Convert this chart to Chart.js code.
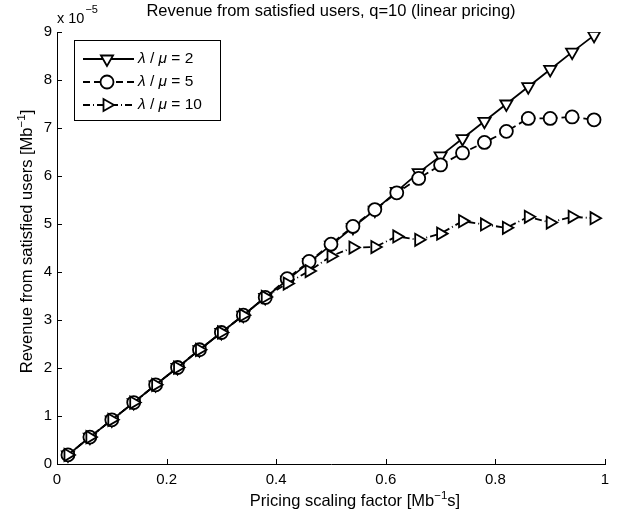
<!DOCTYPE html>
<html>
<head>
<meta charset="utf-8">
<script src="https://cdn.jsdelivr.net/npm/chart.js@4.4.1/dist/chart.umd.min.js"></script>
<style>
html, body { margin: 0; padding: 0; background: #fff; }
</style>
</head>
<body>
<canvas id="revenueChart" width="629" height="514"></canvas>
<script>
// pricing scaling factor (x) and revenue in units of 1e-5 (y)
const pricing = [0.02, 0.06, 0.10, 0.14, 0.18, 0.22, 0.26, 0.30, 0.34, 0.38, 0.42, 0.46, 0.50,
                 0.54, 0.58, 0.62, 0.66, 0.70, 0.74, 0.78, 0.82, 0.86, 0.90, 0.94, 0.98];
const revRatio2 = [0.19, 0.56, 0.92, 1.28, 1.65, 2.01, 2.38, 2.74, 3.10, 3.47, 3.83, 4.20, 4.56,
                   4.93, 5.29, 5.68, 6.07, 6.42, 6.78, 7.14, 7.50, 7.86, 8.22, 8.58, 8.93];
const revRatio5 = [0.19, 0.56, 0.92, 1.28, 1.65, 2.01, 2.38, 2.74, 3.10, 3.47, 3.86, 4.22, 4.58,
                   4.95, 5.30, 5.65, 5.95, 6.23, 6.48, 6.70, 6.93, 7.20, 7.20, 7.23, 7.17];
const revRatio10 = [0.19, 0.56, 0.92, 1.28, 1.65, 2.01, 2.38, 2.74, 3.10, 3.48, 3.76, 4.02, 4.33,
                    4.51, 4.52, 4.74, 4.67, 4.80, 5.06, 4.99, 4.92, 5.15, 5.03, 5.15, 5.12];
const ratioLabels = ['2', '5', '10'];

const FONT = '"Liberation Sans", Arial, sans-serif';
Chart.defaults.font.family = FONT;
Chart.defaults.font.size = 15;
Chart.defaults.color = '#000';

const toPoints = ys => pricing.map((x, i) => ({ x: x, y: ys[i] }));

// text with superscripts: parts = [text, size, raise]
function drawRich(ctx, parts, cx, baseline) {
    let total = 0;
    parts.forEach(p => {
        ctx.font = p[1] + 'px ' + FONT;
        total += ctx.measureText(p[0]).width;
    });
    let x = cx - total / 2;
    parts.forEach(p => {
        ctx.font = p[1] + 'px ' + FONT;
        ctx.fillText(p[0], x, baseline - (p[2] || 0));
        x += ctx.measureText(p[0]).width;
    });
}

// inward tick marks, exponent and axis labels like matlab
const matlabAxes = {
    id: 'matlabAxes',
    afterDatasetsDraw(chart) {
        const ctx = chart.ctx;
        const a = chart.chartArea;
        const xs = chart.scales.x, ys = chart.scales.y;
        ctx.save();
        ctx.strokeStyle = '#000';
        ctx.lineWidth = 1;
        ctx.beginPath();
        xs.ticks.forEach(t => {
            const px = Math.round(xs.getPixelForValue(t.value)) + 0.5;
            ctx.moveTo(px, a.bottom);
            ctx.lineTo(px, a.bottom - 5);
        });
        ys.ticks.forEach(t => {
            const py = Math.round(ys.getPixelForValue(t.value)) + 0.5;
            ctx.moveTo(a.left, py);
            ctx.lineTo(a.left + 5, py);
        });
        ctx.stroke();

        ctx.fillStyle = '#000';
        ctx.textBaseline = 'alphabetic';
        ctx.textAlign = 'left';
        // exponent label
        ctx.font = '14.5px ' + FONT;
        ctx.fillText('x 10', a.left, 23);
        const w = ctx.measureText('x 10').width;
        ctx.font = '11px ' + FONT;
        ctx.fillText('\u22125', a.left + w + 1, 13);

        // x axis title
        drawRich(ctx, [['Pricing scaling factor [Mb', 16.5], ['\u22121', 11.5, 7], ['s]', 16.5]], 355, 506);
        // y axis title
        ctx.translate(31.5, 241.5);
        ctx.rotate(-Math.PI / 2);
        drawRich(ctx, [['Revenue from satisfied users [Mb', 16.5], ['\u22121', 11.5, 7], [']', 16.5]], 0, 0);
        ctx.restore();
    }
};

// legend box with line + marker samples
const boxLegend = {
    id: 'boxLegend',
    afterDraw(chart) {
        const ctx = chart.ctx;
        const sets = chart.data.datasets;
        ctx.save();
        ctx.fillStyle = '#fff';
        ctx.fillRect(74.5, 40.5, 146, 80);
        ctx.strokeStyle = '#000';
        ctx.lineWidth = 1;
        ctx.strokeRect(74.5, 40.5, 146, 80);
        sets.forEach((ds, i) => {
            const y = 59 + i * 23;
            ctx.lineWidth = ds.borderWidth;
            ctx.setLineDash(ds.borderDash || []);
            ctx.beginPath();
            ctx.moveTo(83, y);
            ctx.lineTo(134, y);
            ctx.stroke();
            ctx.setLineDash([]);
            ctx.fillStyle = '#fff';
            ctx.lineWidth = ds.pointBorderWidth;
            Chart.helpers.drawPoint(ctx, {
                pointStyle: ds.pointStyle,
                rotation: ds.pointRotation || 0,
                radius: ds.pointRadius,
                borderWidth: ds.pointBorderWidth
            }, 107, y);
            // label: italic lambda / mu
            ctx.fillStyle = '#000';
            ctx.textBaseline = 'middle';
            let x = 138;
            const parts = [['italic ', '\u03bb'], ['', ' / '], ['italic ', '\u03bc'], ['', ' = ' + ratioLabels[i]]];
            parts.forEach(p => {
                ctx.font = p[0] + '15.5px ' + FONT;
                ctx.fillText(p[1], x, y);
                x += ctx.measureText(p[1]).width;
            });
        });
        ctx.restore();
    }
};

const lineBase = {
    borderColor: '#000',
    borderWidth: 1.8,
    pointBorderColor: '#000',
    pointBackgroundColor: '#fff',
    pointBorderWidth: 1.8,
    tension: 0,
    fill: false
};

new Chart(document.getElementById('revenueChart').getContext('2d'), {
    type: 'line',
    data: {
        datasets: [
            Object.assign({}, lineBase, {
                label: '\u03bb / \u03bc = ' + ratioLabels[0],
                data: toPoints(revRatio2),
                pointStyle: 'triangle', pointRotation: 180, pointRadius: 7,
                order: 3
            }),
            Object.assign({}, lineBase, {
                label: '\u03bb / \u03bc = ' + ratioLabels[1],
                data: toPoints(revRatio5),
                borderDash: [7, 4],
                pointStyle: 'circle', pointRadius: 6.5,
                order: 2
            }),
            Object.assign({}, lineBase, {
                label: '\u03bb / \u03bc = ' + ratioLabels[2],
                data: toPoints(revRatio10),
                borderDash: [7, 3, 1, 3],
                pointStyle: 'triangle', pointRotation: 90, pointRadius: 7,
                order: 1
            })
        ]
    },
    options: {
        responsive: false,
        animation: false,
        layout: { padding: { top: 0, right: 24, left: 0, bottom: 0 } },
        plugins: {
            legend: { display: false },
            tooltip: { enabled: false },
            title: {
                display: true,
                fullSize: false,
                text: 'Revenue from satisfied users, q=10 (linear pricing)',
                font: { size: 16.5, weight: 'normal' },
                color: '#000',
                padding: { top: 2, bottom: 10.2 }
            }
        },
        scales: {
            x: {
                type: 'linear',
                min: 0, max: 1,
                afterFit(scale) { scale.height = 50; },
                ticks: {
                    stepSize: 0.2, padding: 7, color: '#000', maxRotation: 0,
                    callback: v => String(+v.toFixed(1))
                },
                grid: { drawOnChartArea: false, drawTicks: false },
                border: { display: true, color: '#000', width: 1 }
            },
            y: {
                min: 0, max: 9,
                afterFit(scale) { scale.width = 57; },
                ticks: { stepSize: 1, padding: 5, color: '#000' },
                grid: { drawOnChartArea: false, drawTicks: false },
                border: { display: true, color: '#000', width: 1 }
            }
        }
    },
    plugins: [matlabAxes, boxLegend]
});
</script>
</body>
</html>
